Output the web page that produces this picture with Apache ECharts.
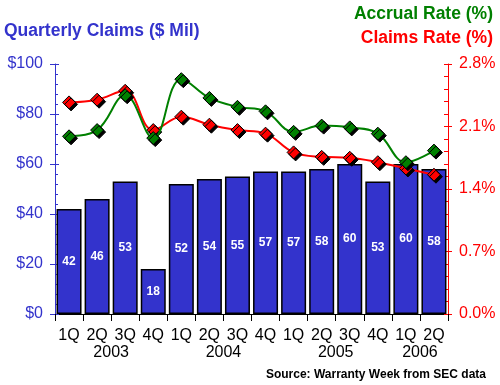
<!DOCTYPE html>
<html><head><meta charset="utf-8">
<script src="https://cdn.jsdelivr.net/npm/echarts@6/dist/echarts.min.js"></script>
<style>html,body{margin:0;padding:0;background:#fff}#c{width:500px;height:385px}</style>
</head><body><div id="c"></div>
<script>
const quarters = ['1Q','2Q','3Q','4Q','1Q','2Q','3Q','4Q','1Q','2Q','3Q','4Q','1Q','2Q'];
const yearLabels = {2:'2003', 6:'2004', 10:'2005', 13:'2006'};
const claims = [42,46,53,18,52,54,55,57,57,58,60,53,60,58];
const claimsRate = [2.37,2.40,2.50,2.06,2.21,2.12,2.06,2.02,1.81,1.76,1.75,1.70,1.63,1.56];
const accrualRate = [1.99,2.06,2.45,1.97,2.63,2.42,2.32,2.27,2.04,2.11,2.09,2.02,1.70,1.83];

const F = 'Liberation Sans, Arial, sans-serif';
const blue = '#3333cc', red = '#ff0000', green = '#008000';
const chart = echarts.init(document.getElementById('c'), null, {renderer:'canvas'});
const diamond = (c) => ({color:c, borderColor:'#000', borderWidth:1, shadowColor:'#000', shadowOffsetX:2, shadowOffsetY:2, shadowBlur:0});
chart.setOption({
  animation:false,
  title:[
    {text:'Quarterly Claims ($ Mil)', left:4, top:22, padding:0, textStyle:{fontFamily:F, fontSize:17.5, fontWeight:'bold', color:blue}},
    {text:'Accrual Rate (%)', right:7, top:5, padding:0, textStyle:{fontFamily:F, fontSize:17.5, fontWeight:'bold', color:green}},
    {text:'Claims Rate (%)', right:7, top:29, padding:0, textStyle:{fontFamily:F, fontSize:17.5, fontWeight:'bold', color:red}},
    {text:'Source: Warranty Week from SEC data', right:14, top:369, padding:0, textStyle:{fontFamily:F, fontSize:12, fontWeight:'bold', color:'#000'}}
  ],
  grid:{left:55, right:52, top:64, bottom:71},
  xAxis:[
    {type:'category', data:quarters, boundaryGap:true,
     axisLine:{lineStyle:{color:'#000', width:1}},
     axisTick:{show:true, length:7, lineStyle:{color:'#000'}},
     axisLabel:{interval:0, margin:14, color:'#000', fontFamily:F, fontSize:16}},
    {type:'value', min:0, max:14, interval:1, position:'bottom',
     axisLine:{show:false}, axisTick:{show:false}, splitLine:{show:false},
     axisLabel:{margin:31, color:'#000', fontFamily:F, fontSize:16, showMinLabel:true, showMaxLabel:true,
       formatter:(v)=>yearLabels[v]||''}}
  ],
  yAxis:[
    {type:'value', min:0, max:100, interval:20, position:'left',
     axisLine:{show:true, lineStyle:{color:blue, width:1}},
     axisTick:{show:true, length:5, lineStyle:{color:blue}},
     splitLine:{show:false},
     axisLabel:{margin:12, color:blue, fontFamily:F, fontSize:16, formatter:(v)=>'$'+v}},
    {type:'value', min:0, max:100, interval:20, position:'left',
     axisLine:{show:false},
     axisTick:{show:true, inside:true, length:4, lineStyle:{color:blue}},
     minorTick:{show:true, splitNumber:5, length:3, lineStyle:{color:blue}},
     splitLine:{show:false}, axisLabel:{show:false}},
    {type:'value', min:0, max:2.8, interval:0.7, position:'right',
     axisLine:{show:true, lineStyle:{color:red, width:1}},
     axisTick:{show:true, length:4, lineStyle:{color:red}},
     splitLine:{show:false},
     axisLabel:{margin:11, color:red, fontFamily:F, fontSize:16, formatter:(v)=>v.toFixed(1)+'%'}},
    {type:'value', min:0, max:2.8, interval:0.7, position:'right',
     axisLine:{show:false},
     axisTick:{show:true, inside:true, length:4, lineStyle:{color:red}},
     minorTick:{show:true, splitNumber:5, length:4, lineStyle:{color:red}},
     splitLine:{show:false}, axisLabel:{show:false}}
  ],
  series:[
    {type:'bar', data:claims, xAxisIndex:0, yAxisIndex:0, barWidth:25,
     itemStyle:{color:blue, borderColor:'#000', borderWidth:1.5},
     label:{show:true, position:'inside', color:'#fff', fontFamily:'Liberation Sans Narrow, Arial Narrow, '+F, fontWeight:'bold', fontSize:12}},
    {type:'line', data:claimsRate, xAxisIndex:0, yAxisIndex:2, smooth:0.4,
     lineStyle:{color:red, width:2}, symbol:'diamond', symbolSize:13, itemStyle:diamond(red), z:3},
    {type:'line', data:accrualRate, xAxisIndex:0, yAxisIndex:2, smooth:0.4,
     lineStyle:{color:green, width:2}, symbol:'diamond', symbolSize:13, itemStyle:diamond(green), z:4}
  ]
});
</script></body></html>
